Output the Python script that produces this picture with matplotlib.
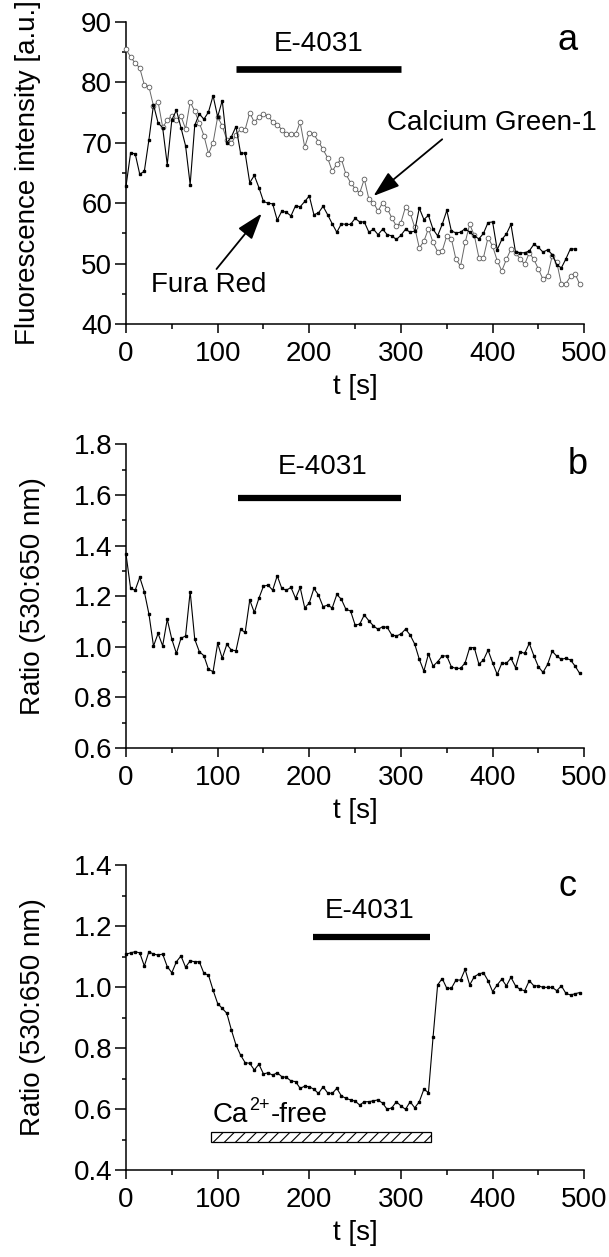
import numpy as np
import matplotlib
matplotlib.use("Agg")
import matplotlib.pyplot as plt
from matplotlib.patches import Rectangle
from matplotlib.ticker import MultipleLocator, FormatStrFormatter

plt.rcParams['font.family'] = ['Liberation Sans', 'DejaVu Sans']
plt.rcParams['font.size'] = 20
plt.rcParams['hatch.linewidth'] = 0.8

dt = 5  # sampling interval [s]

# panel a: fluorescence intensity [a.u.]
calcium_green = [85.5, 84.2, 83.2, 82.4, 79.6, 79.3, 76.1, 76.8, 72.6, 73.7,
                 74.5, 73.8, 74.4, 72.3, 76.8, 75.2, 73.3, 71.2, 68.2, 70.0,
                 74.3, 72.8, 70.5, 69.9, 71.3, 72.3, 72.2, 75.0, 73.4, 74.3,
                 74.7, 74.5, 73.4, 73.0, 72.2, 71.5, 71.4, 71.4, 73.4, 69.3,
                 71.7, 71.4, 70.2, 68.9, 67.5, 65.3, 66.5, 67.3, 64.8, 63.4,
                 62.4, 61.7, 64.0, 60.7, 60.1, 58.7, 60.1, 59.1, 57.6, 56.2,
                 56.8, 59.4, 58.4, 56.0, 52.6, 53.7, 55.8, 53.5, 52.0, 52.1,
                 54.6, 54.1, 50.7, 49.6, 53.5, 56.5, 54.7, 51.0, 51.0, 54.3,
                 52.9, 50.5, 48.8, 50.7, 52.4, 51.8, 50.8, 49.9, 51.8, 50.7,
                 49.1, 47.4, 48.0, 51.3, 50.2, 46.6, 46.7, 47.9, 48.3, 46.6]
fura_red = [62.8, 68.3, 68.2, 64.8, 65.3, 70.5, 76.3, 73.3, 72.5, 66.4,
            73.8, 75.4, 72.5, 69.5, 63.1, 72.9, 74.8, 73.9, 75.1, 77.8,
            74.3, 77.0, 70.0, 71.0, 72.7, 68.3, 68.3, 63.4, 64.6, 62.6,
            60.3, 60.0, 59.9, 57.2, 58.7, 58.5, 57.9, 59.6, 59.4, 60.3,
            61.2, 58.1, 58.4, 59.5, 58.1, 56.6, 55.2, 56.6, 56.5, 56.5,
            57.5, 56.9, 56.9, 55.2, 55.7, 54.8, 55.7, 54.8, 54.6, 54.0,
            54.7, 55.7, 55.2, 55.4, 59.2, 57.3, 58.0, 55.7, 54.6, 56.5,
            58.8, 55.4, 55.1, 55.2, 55.8, 55.2, 54.6, 54.1, 55.0, 56.8,
            56.9, 52.3, 54.0, 54.9, 56.5, 51.9, 51.8, 51.8, 52.1, 53.2,
            52.7, 51.9, 52.3, 51.5, 49.8, 49.3, 50.8, 52.5, 52.4]

# panel b: ratio 530:650 nm
ratio_b = [1.367, 1.231, 1.224, 1.275, 1.218, 1.130, 1.003, 1.053, 1.004, 1.109,
           1.030, 0.974, 1.034, 1.043, 1.218, 1.030, 0.981, 0.965, 0.911, 0.902,
           1.014, 0.955, 1.010, 0.987, 0.985, 1.069, 1.057, 1.185, 1.136, 1.192,
           1.240, 1.244, 1.224, 1.281, 1.231, 1.224, 1.235, 1.192, 1.235, 1.154,
           1.174, 1.231, 1.205, 1.159, 1.165, 1.154, 1.207, 1.188, 1.148, 1.142,
           1.086, 1.090, 1.126, 1.103, 1.083, 1.069, 1.080, 1.077, 1.047, 1.043,
           1.051, 1.070, 1.047, 1.011, 0.951, 0.904, 0.972, 0.924, 0.941, 0.964,
           0.964, 0.921, 0.915, 0.915, 0.937, 0.997, 0.997, 0.932, 0.948, 0.987,
           0.937, 0.891, 0.935, 0.935, 0.955, 0.918, 0.981, 0.974, 1.014, 0.965,
           0.921, 0.899, 0.931, 0.983, 0.963, 0.951, 0.955, 0.948, 0.924, 0.895]

# panel c: ratio 530:650 nm, Ca2+-free period
ratio_c = [1.108, 1.112, 1.116, 1.112, 1.069, 1.116, 1.108, 1.105, 1.108, 1.067,
           1.047, 1.083, 1.102, 1.065, 1.086, 1.083, 1.083, 1.045, 1.039, 0.990,
           0.946, 0.930, 0.914, 0.859, 0.810, 0.777, 0.752, 0.750, 0.728, 0.747,
           0.715, 0.719, 0.711, 0.719, 0.706, 0.704, 0.692, 0.690, 0.668, 0.675,
           0.673, 0.665, 0.651, 0.673, 0.653, 0.651, 0.668, 0.643, 0.635, 0.630,
           0.626, 0.613, 0.624, 0.624, 0.627, 0.630, 0.619, 0.599, 0.604, 0.624,
           0.610, 0.599, 0.624, 0.604, 0.624, 0.665, 0.654, 0.835, 1.007, 1.028,
           0.996, 0.996, 1.023, 1.023, 1.058, 1.007, 1.034, 1.043, 1.047, 1.021,
           0.985, 1.007, 1.026, 1.004, 1.032, 1.004, 0.992, 0.988, 1.021, 1.004,
           1.004, 0.999, 0.999, 0.999, 0.988, 1.004, 0.979, 0.974, 0.978, 0.982]

# drug application bars (start, end) in s
e4031_a = (120, 300)
e4031_b = (122, 300)
e4031_c = (204, 332)
ca_free = (93, 333)


def style_axis(ax, ylim, ymajor, yminor):
    ax.set_xlim(0, 500)
    ax.set_ylim(*ylim)
    for s in ('top', 'right'):
        ax.spines[s].set_visible(False)
    for s in ('left', 'bottom'):
        ax.spines[s].set_linewidth(1.1)
    ax.xaxis.set_major_locator(MultipleLocator(100))
    ax.xaxis.set_minor_locator(MultipleLocator(50))
    ax.yaxis.set_major_locator(MultipleLocator(ymajor))
    ax.yaxis.set_minor_locator(MultipleLocator(yminor))
    ax.tick_params(axis='x', which='major', length=6.5, width=1.1, pad=6)
    ax.tick_params(axis='x', which='minor', length=3.6, width=1.1)
    ax.tick_params(axis='y', which='major', length=8, width=1.1, pad=2)
    ax.tick_params(axis='y', which='minor', length=3, width=1.1)
    ax.set_xlabel('t [s]', labelpad=5)


fig = plt.figure(figsize=(6.09, 12.57), dpi=100)
left, width = 0.2069, 0.7525
ax_a = fig.add_axes([left, 0.7422, width, 0.2403])
ax_b = fig.add_axes([left, 0.4049, width, 0.2415])
ax_c = fig.add_axes([left, 0.0692, width, 0.2426])

# ---- panel a
t_cg = np.arange(len(calcium_green)) * dt
t_fr = np.arange(len(fura_red)) * dt
ax_a.plot(t_cg, calcium_green, '-', color='0.4', lw=0.7, marker='o', ms=3.4,
          mfc='white', mec='0.35', mew=0.6, clip_on=False, zorder=3)
ax_a.plot(t_fr, fura_red, '-', color='black', lw=0.8, marker='s', ms=2.0,
          mfc='black', mec='black', clip_on=False, zorder=4)
style_axis(ax_a, (40, 90), 10, 5)
ax_a.set_ylabel('Fluorescence intensity [a.u.]')
ax_a.yaxis.set_label_coords(-0.214, 0.5)
ax_a.yaxis.label.set_verticalalignment('center')
ax_a.plot(e4031_a, [82.3, 82.3], color='black', lw=4.8, solid_capstyle='butt')
ax_a.text(210, 86.4, 'E-4031', ha='center', va='center', fontsize=20)
ax_a.text(482, 87.0, 'a', ha='center', va='center', fontsize=26)
ax_a.annotate('Calcium Green-1', xy=(270, 61.2), xytext=(399, 73.2),
              ha='center', va='center', fontsize=20,
              arrowprops=dict(arrowstyle='-|>,head_length=0.9,head_width=0.3',
                              color='black', lw=1.3, mutation_scale=18,
                              shrinkA=0, shrinkB=0, relpos=(0.28, 0.0)))
ax_a.annotate('Fura Red', xy=(148, 58.3), xytext=(90, 46.5),
              ha='center', va='center', fontsize=20,
              arrowprops=dict(arrowstyle='-|>,head_length=0.9,head_width=0.3',
                              color='black', lw=1.3, mutation_scale=18,
                              shrinkA=0, shrinkB=0, relpos=(0.55, 1.0)))

# ---- panel b
t_b = np.arange(len(ratio_b)) * dt
ax_b.plot(t_b, ratio_b, '-', color='black', lw=0.8, marker='s', ms=2.0,
          clip_on=False)
style_axis(ax_b, (0.6, 1.8), 0.2, 0.1)
ax_b.yaxis.set_major_formatter(FormatStrFormatter('%.1f'))
ax_b.set_ylabel('Ratio (530:650 nm)')
ax_b.yaxis.set_label_coords(-0.203, 0.5)
ax_b.yaxis.label.set_verticalalignment('center')
ax_b.plot(e4031_b, [1.59, 1.59], color='black', lw=4.5, solid_capstyle='butt')
ax_b.text(214, 1.71, 'E-4031', ha='center', va='center', fontsize=20)
ax_b.text(493, 1.72, 'b', ha='center', va='center', fontsize=26)

# ---- panel c
t_c = np.arange(len(ratio_c)) * dt
ax_c.plot(t_c, ratio_c, '-', color='black', lw=0.8, marker='s', ms=2.0,
          clip_on=False)
style_axis(ax_c, (0.4, 1.4), 0.2, 0.1)
ax_c.yaxis.set_major_formatter(FormatStrFormatter('%.1f'))
ax_c.set_ylabel('Ratio (530:650 nm)')
ax_c.yaxis.set_label_coords(-0.203, 0.5)
ax_c.yaxis.label.set_verticalalignment('center')
ax_c.plot(e4031_c, [1.165, 1.165], color='black', lw=4.5, solid_capstyle='butt')
ax_c.text(266, 1.25, 'E-4031', ha='center', va='center', fontsize=20)
ax_c.text(482, 1.33, 'c', ha='center', va='center', fontsize=26)
ax_c.add_patch(Rectangle((ca_free[0], 0.493), ca_free[1] - ca_free[0], 0.031,
                         facecolor='white', edgecolor='black', lw=0.9,
                         hatch='///'))
# "Ca2+-free" built from three pieces so the superscript sits like the original
ca_txt = ax_c.text(95, 0.557, 'Ca', ha='left', va='baseline', fontsize=20)
sup = ax_c.annotate('2+', xy=(1, 0.55), xycoords=ca_txt, xytext=(0.5, 0),
                    textcoords='offset points', ha='left', va='bottom',
                    fontsize=13)
ax_c.annotate('-free', xy=(1, 0), xycoords=(sup, ca_txt), xytext=(0.5, 0),
              textcoords='offset points', ha='left', va='bottom', fontsize=20,
              annotation_clip=False)

fig.savefig('out.png', dpi=100)
